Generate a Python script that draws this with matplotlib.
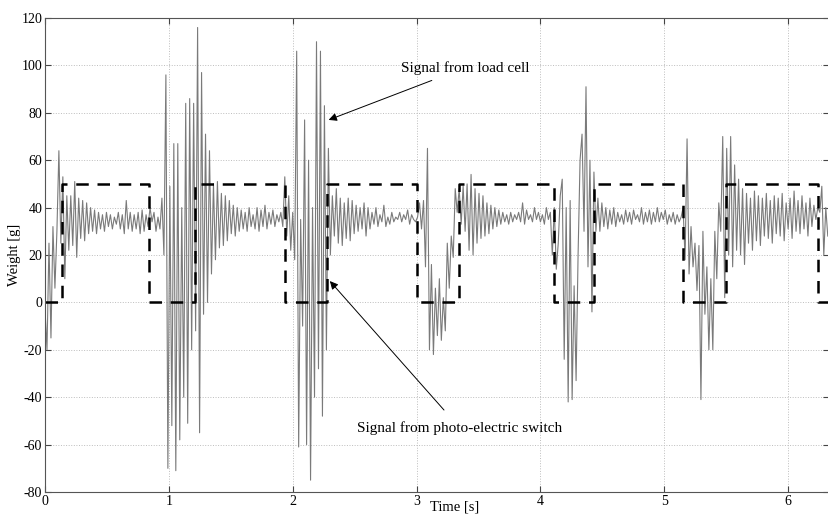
import numpy as np
import matplotlib
matplotlib.use('Agg')
import matplotlib.pyplot as plt

# load cell signal, one sample every 0.016 s
dt = 0.016
weight = [
	-3, -20, 25, -15, 32, 6, 30, 64, 25, 53,
	10, 45, 22, 45, 24, 51, 19, 44, 27, 43,
	26, 42, 29, 40, 30, 39, 29, 38, 31, 37,
	30, 38, 32, 37, 31, 36, 33, 38, 31, 37,
	29, 43, 31, 38, 30, 37, 31, 38, 29, 39,
	30, 37, 32, 40, 34, 38, 30, 36, 31, 44,
	20, 96, -70, 49, -52, 67, -71, 67, -58, 40,
	-40, 84, -51, 86, -20, 84, -12, 116, -55, 97,
	-5, 71, 0, 64, 12, 50, 18, 51, 23, 46,
	24, 45, 26, 43, 29, 41, 28, 40, 30, 39,
	31, 38, 30, 40, 32, 37, 31, 40, 30, 39,
	32, 41, 31, 38, 33, 39, 32, 37, 34, 38,
	32, 53, 28, 45, 22, 38, 18, 106, -61, 35,
	-10, 77, -60, 60, -75, 40, -40, 110, -28, 106,
	-48, 83, -20, 65, 20, 45, 28, 48, 25, 44,
	24, 42, 27, 44, 26, 43, 29, 41, 30, 40,
	31, 42, 28, 40, 31, 38, 33, 40, 32, 37,
	34, 41, 32, 36, 33, 38, 34, 36, 35, 38,
	34, 37, 35, 39, 33, 37, 35, 34, 36, 42,
	31, 43, 15, 65, -20, 16, -22, 6, -14, 10,
	-16, 2, -12, 25, 6, 28, 19, 48, 38, 48,
	33, 49, 30, 50, 22, 54, 20, 48, 25, 46,
	27, 45, 28, 42, 29, 41, 31, 40, 32, 39,
	33, 38, 34, 37, 33, 38, 34, 37, 35, 38,
	34, 42, 33, 39, 35, 37, 34, 40, 35, 38,
	34, 37, 33, 40, 35, 38, 20, 40, 14, 25,
	45, 52, -24, 40, -42, 43, -41, 7, -33, 20,
	60, 71, 30, 91, 15, 60, -4, 55, 30, 44,
	30, 42, 32, 40, 31, 39, 33, 40, 32, 38,
	34, 37, 33, 39, 34, 38, 33, 39, 35, 37,
	34, 40, 33, 38, 34, 39, 33, 38, 34, 40,
	34, 38, 35, 39, 33, 37, 34, 38, 33, 37,
	34, 36, 40, 18, 69, 12, 32, 15, 25, 5,
	24, -41, 30, -5, 15, -20, 10, -20, 30, 10,
	42, 30, 70, 2, 65, 20, 70, 15, 58, 22,
	52, 20, 48, 16, 46, 25, 44, 22, 47, 26,
	45, 24, 44, 28, 46, 27, 43, 25, 45, 29,
	44, 28, 46, 26, 42, 31, 44, 27, 47, 30,
	43, 29, 45, 31, 42, 28, 44, 32, 41, 35,
	40, 38, 49, 20, 40, 28,
]

# photo-electric switch: times where the level changes, and the levels
switch_t = [0, 0.135, 0.84, 1.21, 1.94, 2.28, 3.0, 3.34, 4.11, 4.43, 5.15, 5.50, 6.24, 6.33]
switch_level = [0, 50, 0, 50, 0, 50, 0, 50, 0, 50, 0, 50, 0, 0]

xticks = [0, 1, 2, 3, 4, 5, 6]
yticks = [-80, -60, -40, -20, 0, 20, 40, 60, 80, 100, 120]

plt.rcParams['font.family'] = ['Liberation Serif', 'DejaVu Serif']
plt.rcParams['axes.unicode_minus'] = False

fig = plt.figure(figsize=(8.29, 5.16), dpi=100)
ax = fig.add_axes([0.0543, 0.0465, 0.9457, 0.9186])

t = np.arange(len(weight)) * dt
ax.plot(t, weight, color='#7a7a7a', lw=0.8)
ax.step(switch_t, switch_level, where='post', color='k', lw=1.8, dashes=(5, 3.5))

ax.set_xlim(0, 6.33)
ax.set_ylim(-80, 120)
ax.set_xticks(xticks)
ax.set_yticks(yticks)
ax.grid(True, linestyle=':', color='#bdbdbd', lw=0.7)
ax.tick_params(direction='in', length=4, top=True, right=True, labelsize=10, pad=2, color='#444444')
for s in ax.spines.values():
	s.set_color('#555555')
	s.set_linewidth(0.8)

ax.set_xlabel('Time [s]', fontsize=10.5, labelpad=-5)
ax.xaxis.set_label_coords(0.522, -0.018, transform=ax.transAxes)
ax.xaxis.label.set_va('top')
ax.set_ylabel('Weight [g]', fontsize=10.5, labelpad=0)

ax.annotate('Signal from load cell', xy=(2.29, 77), xytext=(3.39, 99),
	ha='center', va='center', fontsize=11,
	arrowprops=dict(arrowstyle='-|>', color='k', lw=0.7, mutation_scale=12,
		shrinkA=6, shrinkB=0))
ax.annotate('Signal from photo-electric switch', xy=(2.30, 9), xytext=(3.35, -53),
	ha='center', va='center', fontsize=11,
	arrowprops=dict(arrowstyle='-|>', color='k', lw=0.7, mutation_scale=12,
		shrinkA=8, shrinkB=0))

plt.savefig('out.png', dpi=100)
plt.close()
